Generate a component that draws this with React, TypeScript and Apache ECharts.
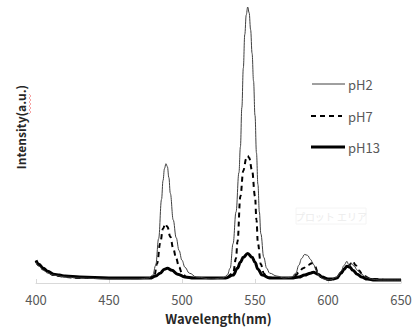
import React, { useEffect, useRef } from "react";
import * as echarts from "echarts";

const xTicks = { min: 400, max: 650, interval: 50 };

const pH2Wl = [400, 402, 405, 408, 412, 416, 420, 430, 450, 470, 477, 480, 482, 484, 486, 487, 488, 489, 490, 491, 492, 494, 496, 498, 500, 502, 505, 510, 520, 528, 531, 533, 535, 537, 539, 540, 541, 542, 543, 544, 545, 546, 547, 548, 549, 550, 551, 552, 553, 554, 556, 558, 560, 565, 570, 575, 578, 580, 582, 584, 586, 588, 590, 592, 594, 597, 601, 606, 609, 611, 613, 614, 615, 616, 618, 620, 623, 626, 630, 635, 650];
const pH2Int = [21, 17, 13, 10, 8, 7, 6, 5, 4, 4, 5, 8, 18, 45, 85, 104, 116, 121, 118, 107, 91, 64, 46, 33, 23, 16, 10, 6, 4, 5, 8, 15, 40, 72, 112, 138, 178, 218, 252, 272, 280, 274, 257, 233, 205, 170, 132, 100, 72, 50, 26, 15, 10, 7, 5, 6, 10, 18, 25, 29, 28, 24, 19, 13, 7, 4, 3, 6, 12, 18, 22, 19, 17, 20, 17, 13, 9, 6, 4, 3, 3];

const pH7Wl = [400, 402, 405, 408, 412, 416, 420, 430, 450, 470, 478, 481, 483, 485, 487, 488.5, 490, 492, 494, 496, 498, 500, 503, 508, 520, 530, 535, 537, 538, 540, 542, 544, 545, 546, 548, 550, 551, 552, 554, 556, 558, 562, 570, 575, 578, 580, 583, 586, 589, 591, 593, 595, 598, 601, 606, 609, 612, 614, 616, 617, 619, 621, 624, 628, 632, 640, 650];
const pH7Int = [22, 18, 14, 11, 8, 7, 6, 5, 5, 5, 5, 7, 20, 40, 55, 60, 57, 47, 35, 25, 16, 10, 6, 5, 5, 5, 10, 25, 42, 88, 114, 126, 129, 127, 114, 88, 64, 40, 19, 10, 6, 5, 5, 5, 8, 11, 15, 18, 20, 17, 11, 6, 4, 3, 5, 10, 16, 17, 20, 22, 18, 13, 8, 5, 4, 3, 3];

const pH13Wl = [400, 402, 405, 408, 412, 416, 420, 430, 450, 470, 478, 482, 485, 488, 490, 493, 497, 502, 508, 520, 530, 535, 538, 540, 542, 545, 548, 550, 552, 555, 560, 570, 575, 580, 584, 588, 590, 593, 596, 600, 603, 606, 609, 611, 613, 615, 617, 620, 623, 627, 632, 650];
const pH13Int = [23, 19, 15, 12, 9, 8, 7, 6, 5, 5, 5, 7, 10, 14, 15, 13, 9, 6, 5, 5, 5, 8, 15, 21, 26, 30, 26, 21, 14, 8, 5, 5, 5, 6, 8, 10, 11, 9, 6, 4, 4, 5, 10, 14, 17, 16, 13, 9, 6, 4, 3, 3];

const seriesNames = ["pH2", "pH7", "pH13"];
const xLabel = "Wavelength(nm)";
const yLabel = "Intensity(a.u.)";
const plotAreaTip = "プロット エリア";

const zip = (a: number[], b: number[]) => a.map((v, i) => [v, b[i]]);

const FONT = "'Noto Sans CJK JP', 'Noto Sans', sans-serif";

export default function App() {
  const ref = useRef<HTMLDivElement>(null);
  useEffect(() => {
    if (!ref.current) return;
    const chart = echarts.init(ref.current, undefined, { renderer: "svg" });
    const legendY = [84, 116, 147];
    const squiggle: number[][] = [];
    for (let i = 0; i <= 10; i++) squiggle.push([i % 2 === 0 ? 29 : 31, 94 + i * 2]);
    chart.setOption({
      animation: false,
      backgroundColor: "#ffffff",
      grid: { left: 36, right: 18, top: 7, bottom: 43 },
      xAxis: {
        type: "value",
        min: xTicks.min,
        max: xTicks.max,
        interval: xTicks.interval,
        axisLine: { show: true, lineStyle: { color: "#d9d9d9", width: 1 } },
        axisTick: { show: true, inside: true, length: 4, lineStyle: { color: "#d9d9d9" } },
        axisLabel: { color: "#595959", fontSize: 13, margin: 10, fontFamily: FONT },
        splitLine: { show: false },
        name: xLabel,
        nameLocation: "middle",
        nameGap: 29,
        nameTextStyle: { fontWeight: "bold", fontSize: 13, color: "#262626", fontFamily: FONT },
      },
      yAxis: {
        type: "value",
        min: 0,
        max: 280,
        show: false,
      },
      series: [
        {
          name: seriesNames[0],
          type: "line",
          data: zip(pH2Wl, pH2Int),
          showSymbol: false,
          smooth: 0.4,
          smoothMonotone: "x",
          lineStyle: { color: "#404040", width: 1 },
          z: 4,
        },
        {
          name: seriesNames[1],
          type: "line",
          data: zip(pH7Wl, pH7Int),
          showSymbol: false,
          smooth: 0.4,
          smoothMonotone: "x",
          lineStyle: { color: "#000000", width: 2, type: [5, 4] },
          z: 3,
        },
        {
          name: seriesNames[2],
          type: "line",
          data: zip(pH13Wl, pH13Int),
          showSymbol: false,
          smooth: 0.4,
          smoothMonotone: "x",
          lineStyle: { color: "#000000", width: 3 },
          z: 2,
        },
      ],
      graphic: [
        {
          type: "text",
          x: 20,
          y: 127,
          rotation: Math.PI / 2,
          style: {
            text: yLabel,
            fontSize: 12,
            fontWeight: "bold",
            fontFamily: FONT,
            fill: "#262626",
            align: "center",
            verticalAlign: "middle",
          },
        },
        {
          type: "polyline",
          shape: { points: squiggle },
          style: { stroke: "#f28a8a", lineWidth: 0.8, fill: "none" },
        },
        {
          type: "rect",
          shape: { x: 296, y: 208, width: 70, height: 16 },
          style: { fill: "#ffffff", stroke: "#f4f4f4", lineWidth: 1 },
        },
        {
          type: "text",
          x: 331,
          y: 216,
          style: {
            text: plotAreaTip,
            fontSize: 10,
            fontFamily: FONT,
            fill: "#ececec",
            align: "center",
            verticalAlign: "middle",
          },
        },
        {
          type: "line",
          shape: { x1: 312, y1: legendY[0], x2: 345, y2: legendY[0] },
          style: { stroke: "#404040", lineWidth: 1 },
        },
        {
          type: "line",
          shape: { x1: 311, y1: legendY[1], x2: 342, y2: legendY[1] },
          style: { stroke: "#000000", lineWidth: 2, lineDash: [5, 4] },
        },
        {
          type: "line",
          shape: { x1: 311, y1: legendY[2], x2: 345, y2: legendY[2] },
          style: { stroke: "#000000", lineWidth: 3 },
        },
        ...seriesNames.map((n, i) => ({
          type: "text",
          x: 348,
          y: legendY[i],
          style: {
            text: n,
            fontSize: 13,
            fontFamily: FONT,
            fill: "#595959",
            align: "left",
            verticalAlign: "middle",
          },
        })),
      ],
    });
    return () => chart.dispose();
  }, []);
  return <div ref={ref} style={{ width: 419, height: 330, position: "absolute", left: 0, top: 0 }} />;
}
